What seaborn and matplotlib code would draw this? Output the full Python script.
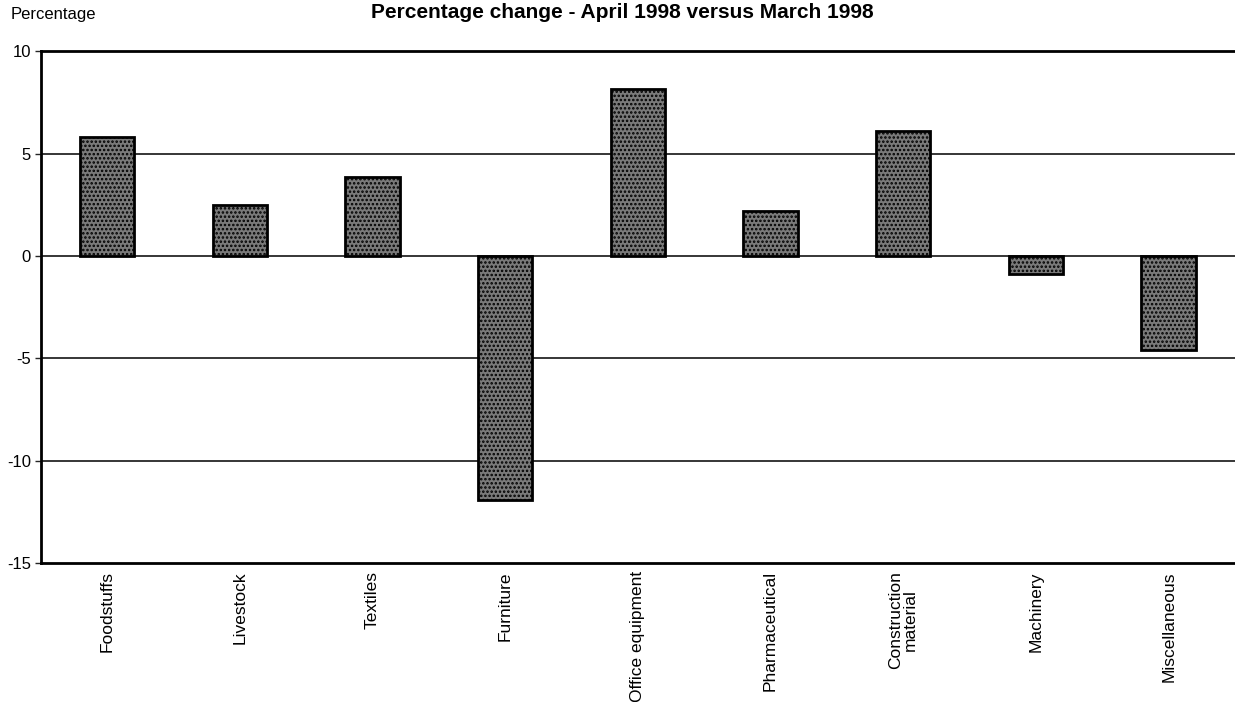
import matplotlib
matplotlib.use("Agg")
import matplotlib.pyplot as plt
import seaborn as sns
import pandas as pd

# Data
categories = ["Foodstuffs", "Livestock", "Textiles", "Furniture", "Office equipment",
              "Pharmaceutical", "Construction\nmaterial", "Machinery", "Miscellaneous"]
pct_change = [5.8, 2.5, 3.85, -11.9, 8.15, 2.2, 6.1, -0.9, -4.6]
y_ticks = [10, 5, 0, -5, -10, -15]

sns.set_style("white")
plt.rcParams['font.family'] = ['Liberation Sans', 'DejaVu Sans']
plt.rcParams['hatch.color'] = '#222222'
plt.rcParams['hatch.linewidth'] = 1.2

df = pd.DataFrame({"category": categories, "change": pct_change})

fig = plt.figure(figsize=(12.35, 7.02), dpi=100)
ax = fig.add_axes([0.033, 0.198, 0.967, 0.729])

sns.barplot(data=df, x="category", y="change", ax=ax, color="#7a7a7a",
            width=0.41, edgecolor="black", linewidth=2, saturation=1)
for patch in ax.patches:
    patch.set_hatch("....")

# Horizontal reference lines
for yv in [5, 0, -5, -10]:
    ax.axhline(yv, color="black", linewidth=1.1, zorder=0)

ax.set_ylim(-15, 10)
ax.set_xlim(-0.5, len(categories) - 0.5)
ax.set_yticks(y_ticks)
ax.set_yticklabels([str(t) for t in y_ticks], fontsize=12, color="black")
ax.tick_params(axis='y', length=4, width=1, direction='out', pad=3, left=True)
ax.tick_params(axis='x', length=0, pad=6)
ax.set_xticks(range(len(categories)))
ax.set_xticklabels(categories, rotation=90, fontsize=12.5, ha='center', va='top',
                   multialignment='center', color="black", linespacing=1.0)
ax.set_xlabel("")
ax.set_ylabel("")

for side in ["left", "top", "bottom"]:
    ax.spines[side].set_linewidth(2)
    ax.spines[side].set_color("black")
ax.spines["right"].set_visible(False)

fig.text(0.009, 0.98, "Percentage", fontsize=12, ha="left", va="center", color="black")
fig.text(0.504, 0.982, "Percentage change - April 1998 versus March 1998",
         fontsize=15, fontweight="bold", ha="center", va="center", color="black")

plt.savefig("out.png", dpi=100)
